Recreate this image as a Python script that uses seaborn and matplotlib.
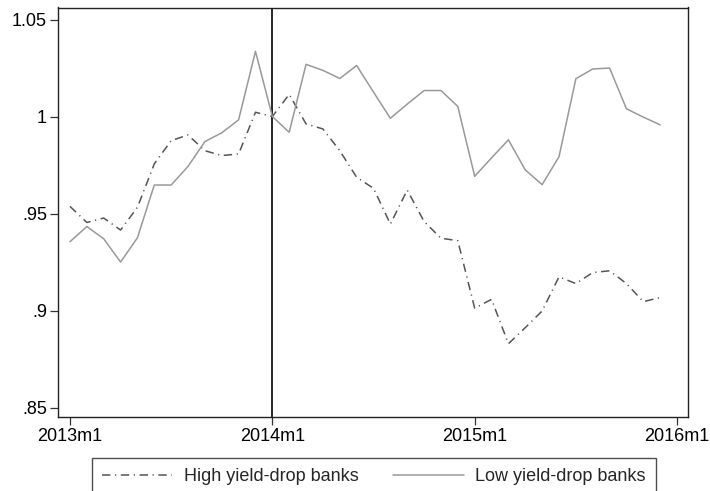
import numpy as np
import pandas as pd
import matplotlib
matplotlib.use("Agg")
import matplotlib.pyplot as plt
import seaborn as sns
from matplotlib.lines import Line2D

sns.set_style("white")
plt.rcParams['font.family'] = ['Liberation Sans', 'DejaVu Sans']

# Months since 2013m1 (2013m1 .. 2015m12)
months = list(range(36))

high_yield_drop = [0.9537, 0.9454, 0.9477, 0.9415, 0.9532, 0.9756, 0.9876, 0.9905,
                   0.9824, 0.9799, 0.9807, 1.0022, 1.0000, 1.0114, 0.9962, 0.9936,
                   0.9824, 0.9687, 0.9630, 0.9446, 0.9621, 0.9459, 0.9373, 0.9360,
                   0.9012, 0.9058, 0.8829, 0.8912, 0.8998, 0.9174, 0.9139, 0.9196,
                   0.9205, 0.9139, 0.9046, 0.9067]

low_yield_drop = [0.9355, 0.9433, 0.9370, 0.9250, 0.9375, 0.9647, 0.9647, 0.9743,
                  0.9871, 0.9916, 0.9983, 1.0336, 1.0000, 0.9919, 1.0269, 1.0238,
                  1.0196, 1.0263, 1.0126, 0.9991, 1.0064, 1.0134, 1.0134, 1.0052,
                  0.9692, 0.9787, 0.9880, 0.9725, 0.9649, 0.9793, 1.0195, 1.0245,
                  1.0250, 1.0040, 0.9997, 0.9957]

series_names = ["High yield-drop banks", "Low yield-drop banks"]
xtick_pos = [0, 12, 24, 36]
xtick_labels = ["2013m1", "2014m1", "2015m1", "2016m1"]
ytick_pos = [0.85, 0.90, 0.95, 1.00, 1.05]
ytick_labels = [".85", ".9", ".95", "1", "1.05"]
event_month = 12

df = pd.DataFrame({
    "month": months * 2,
    "value": high_yield_drop + low_yield_drop,
    "group": [series_names[0]] * len(months) + [series_names[1]] * len(months),
})

fig = plt.figure(figsize=(7.10, 4.91), dpi=100)
ax = fig.add_axes([58 / 710, 1 - 416.7 / 491, (688 - 58) / 710, (416.7 - 7.5) / 491])

sns.lineplot(data=df, x="month", y="value", hue="group", style="group",
             palette={series_names[0]: "#555555", series_names[1]: "#999999"},
             dashes={series_names[0]: (5.5, 3, 0.8, 3), series_names[1]: ""},
             linewidth=1.1, ax=ax, legend=False)

ax.axvline(event_month, color="black", linewidth=1.2, zorder=0.5)

ax.set_xlim(-0.71, 36.65)
ax.set_ylim(0.8453, 1.0562)
ax.set_xticks(xtick_pos)
ax.set_xticklabels(xtick_labels)
ax.set_yticks(ytick_pos)
ax.set_yticklabels(ytick_labels)
ax.set_xlabel("")
ax.set_ylabel("")
ax.tick_params(axis="both", which="major", direction="out", length=6, width=0.9,
               color="#333333", labelsize=13, pad=2, labelcolor="black",
               bottom=True, left=True)
for s in ax.spines.values():
    s.set_visible(True)
    s.set_color("#222222")
    s.set_linewidth(1.0)

handles = [
    Line2D([0], [0], color="#555555", linewidth=1.1, dashes=(5.5, 3, 0.8, 3)),
    Line2D([0], [0], color="#999999", linewidth=1.1),
]
leg = fig.legend(handles, series_names, loc="upper center",
                 bbox_to_anchor=(374 / 710, 1 - 458 / 491), ncol=2,
                 fontsize=13, frameon=True, fancybox=False, handlelength=3.9,
                 handletextpad=0.65, columnspacing=1.9, borderpad=0.55,
                 borderaxespad=0, edgecolor="#222222")
leg.get_frame().set_linewidth(1.0)

fig.savefig("out.png", dpi=100)
